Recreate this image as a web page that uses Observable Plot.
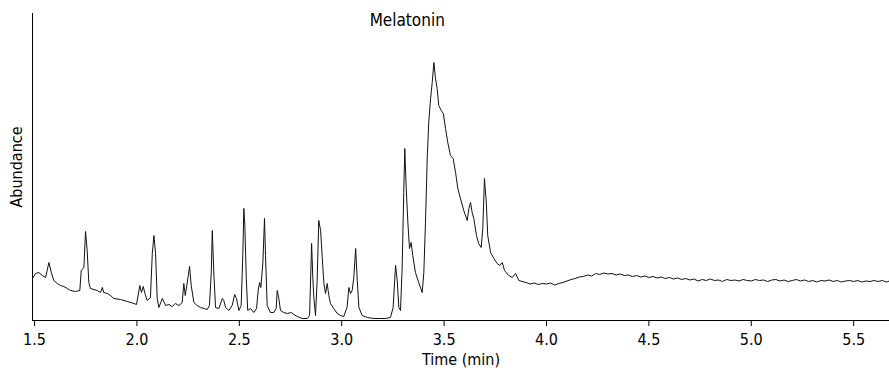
<!DOCTYPE html>
<html>
<head>
<meta charset="utf-8">
<script src="https://cdn.jsdelivr.net/npm/d3@7"></script>
<script src="https://cdn.jsdelivr.net/npm/@observablehq/plot@0.6"></script>
<style>
  html, body { margin: 0; padding: 0; background: #fff; }
</style>
</head>
<body>
<div id="chart"></div>
<script>
// Retention time (min) and abundance (arbitrary units)
const times = [
  1.490, 1.505, 1.521, 1.538, 1.554, 1.570, 1.582, 1.594, 1.611, 1.627,
  1.643, 1.660, 1.676, 1.700, 1.721, 1.728, 1.741, 1.749, 1.757, 1.765,
  1.773, 1.790, 1.806, 1.822, 1.831, 1.838, 1.855, 1.871, 1.887, 1.920,
  1.953, 1.985, 1.998, 2.014, 2.022, 2.031, 2.039, 2.050, 2.066, 2.075,
  2.083, 2.091, 2.099, 2.107, 2.124, 2.140, 2.156, 2.172, 2.188, 2.205,
  2.221, 2.229, 2.236, 2.251, 2.257, 2.265, 2.278, 2.294, 2.311, 2.327,
  2.343, 2.354, 2.363, 2.368, 2.376, 2.384, 2.400, 2.417, 2.424, 2.433,
  2.449, 2.465, 2.477, 2.486, 2.498, 2.509, 2.517, 2.522, 2.527, 2.534,
  2.541, 2.555, 2.571, 2.584, 2.592, 2.599, 2.605, 2.615, 2.623, 2.628,
  2.636, 2.652, 2.668, 2.680, 2.685, 2.693, 2.701, 2.717, 2.734, 2.755,
  2.766, 2.783, 2.807, 2.832, 2.843, 2.853, 2.859, 2.864, 2.872, 2.880,
  2.888, 2.897, 2.905, 2.913, 2.921, 2.929, 2.937, 2.945, 2.961, 2.978,
  2.994, 3.010, 3.026, 3.035, 3.043, 3.051, 3.059, 3.068, 3.076, 3.084,
  3.100, 3.125, 3.157, 3.189, 3.214, 3.238, 3.251, 3.263, 3.271, 3.279,
  3.287, 3.295, 3.303, 3.308, 3.315, 3.323, 3.331, 3.339, 3.347, 3.360,
  3.376, 3.393, 3.401, 3.409, 3.418, 3.425, 3.434, 3.442, 3.450, 3.458,
  3.466, 3.474, 3.486, 3.496, 3.507, 3.518, 3.531, 3.544, 3.556, 3.567,
  3.580, 3.596, 3.613, 3.621, 3.629, 3.637, 3.645, 3.658, 3.669, 3.681,
  3.689, 3.697, 3.706, 3.713, 3.727, 3.743, 3.759, 3.772, 3.784, 3.795,
  3.816, 3.833, 3.849, 3.865,
  3.90, 3.92, 3.94, 3.96, 3.98, 4.00, 4.02, 4.04, 4.06, 4.08,
  4.10, 4.12, 4.14, 4.16, 4.18, 4.20, 4.22, 4.24, 4.26, 4.28,
  4.30, 4.32, 4.34, 4.36, 4.38, 4.40, 4.42, 4.44, 4.46, 4.48,
  4.50, 4.52, 4.54, 4.56, 4.58, 4.60, 4.62, 4.64, 4.66, 4.68,
  4.70, 4.72, 4.74, 4.76, 4.78, 4.80, 4.82, 4.84, 4.86, 4.88,
  4.90, 4.92, 4.94, 4.96, 4.98, 5.00, 5.02, 5.04, 5.06, 5.08,
  5.10, 5.12, 5.14, 5.16, 5.18, 5.20, 5.22, 5.24, 5.26, 5.28,
  5.30, 5.32, 5.34, 5.36, 5.38, 5.40, 5.42, 5.44, 5.46, 5.48,
  5.50, 5.52, 5.54, 5.56, 5.58, 5.60, 5.62, 5.64, 5.66, 5.675
];
const abundance = [
  42, 47, 48, 45, 43, 58, 48, 40, 37, 35,
  34, 32, 30, 29, 30, 50, 53, 89, 70, 38,
  32, 31, 30, 28, 33, 28, 27, 25, 22, 21,
  19, 17, 16, 35, 28, 34, 27, 20, 23, 67,
  85, 67, 22, 13, 22, 15, 16, 14, 17, 15,
  18, 37, 25, 45, 54, 35, 18, 15, 13, 12,
  11, 15, 48, 90, 45, 13, 12, 22, 20, 13,
  10, 15, 26, 22, 10, 15, 65, 112, 95, 42,
  10, 12, 8, 12, 30, 38, 33, 58, 102, 65,
  15, 8, 8, 12, 30, 22, 10, 8, 7, 8,
  6, 4, 2, 2, 5, 77, 42, 23, 5, 40,
  100, 90, 63, 37, 27, 37, 25, 17, 12, 7,
  5, 4, 13, 33, 27, 30, 43, 72, 40, 13,
  5, 3, 2, 2, 2, 3, 13, 55, 40, 13,
  10, 52, 128, 172, 132, 98, 72, 78, 65, 48,
  38, 28, 48, 98, 165, 198, 222, 238, 258, 242,
  232, 215, 210, 207, 192, 178, 165, 162, 148, 132,
  122, 110, 100, 112, 118, 108, 102, 85, 77, 73,
  92, 142, 118, 85, 68, 62, 57, 55, 58, 50,
  45, 43, 47, 40,
  38, 36.5, 37.5, 36, 37, 36.5, 37.5, 35.5, 37, 38,
  39.5, 41, 42, 43.5, 44, 45.5, 44.5, 47, 46, 47.5,
  46.5, 47, 45.5, 46.5, 45, 45.5, 44, 45, 43.5, 44.5,
  43, 44, 42.5, 43.5, 42, 43, 41.5, 42.5, 41, 42,
  40.5, 41.5, 39.5, 41, 40, 41.5, 40, 40.5, 39, 41,
  40, 40.5, 39.5, 41, 40, 39.5, 41, 40, 40.5, 39,
  40.5, 41, 39.5, 40.5, 39, 40, 41, 39.5, 40.5, 39,
  40, 38.5, 40, 39.5, 40.5, 39, 40, 38.5, 39.5, 40,
  39, 40, 38.5, 39.5, 39, 40, 39, 40, 38.5, 39.5
];
const xTicks = [1.5, 2.0, 2.5, 3.0, 3.5, 4.0, 4.5, 5.0, 5.5];
const xDomain = [1.49, 5.675];
const yDomain = [0, 307];
const titleText = "Melatonin";
const titleTime = 3.32;
const xLabel = "Time (min)";
const yLabel = "Abundance";

const data = times.map((t, i) => ({t, a: abundance[i]}));

const chart = Plot.plot({
  width: 889,
  height: 373,
  marginLeft: 32,
  marginRight: 0,
  marginTop: 13,
  marginBottom: 53,
  style: {
    fontFamily: "'Liberation Sans Narrow', 'DejaVu Sans Condensed', sans-serif",
    fontSize: "16px",
    background: "#fff",
    color: "#000"
  },
  x: {domain: xDomain},
  y: {domain: yDomain},
  marks: [
    Plot.line(data, {x: "t", y: "a", stroke: "#111", strokeWidth: 1, clip: true}),
    Plot.ruleY([yDomain[0]], {stroke: "#000", strokeWidth: 1}),
    Plot.ruleX([xDomain[0]], {stroke: "#000", strokeWidth: 1}),
    Plot.axisX({ticks: xTicks, tickFormat: d3.format(".1f"), tickSize: 6, tickPadding: 7, label: null}),
    Plot.axisY({ticks: [], label: null}),
    Plot.text([xLabel], {frameAnchor: "bottom", dy: 39, lineAnchor: "middle", fontSize: 16, fill: "#000"}),
    Plot.text([yLabel], {frameAnchor: "left", dx: -16, rotate: -90, textAnchor: "middle", lineAnchor: "middle", fontSize: 16, fill: "#000"}),
    Plot.text([titleText], {x: [titleTime], frameAnchor: "top", dy: 7, lineAnchor: "middle", fontSize: 17, fill: "#000"})
  ]
});
document.getElementById("chart").appendChild(chart);
</script>
</body>
</html>
